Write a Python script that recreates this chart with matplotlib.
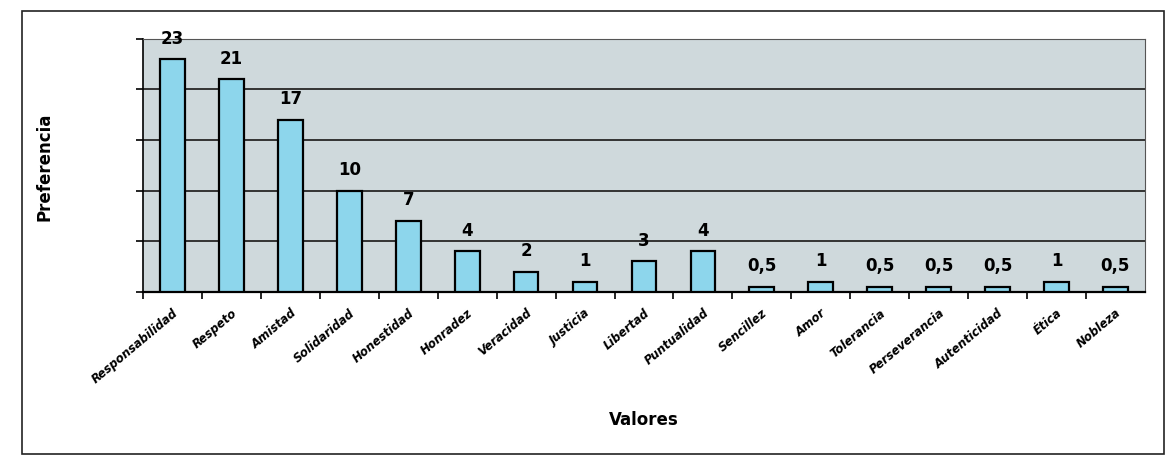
import numpy as np
import matplotlib.pyplot as plt
from matplotlib.patches import Rectangle

valores = ['Responsabilidad', 'Respeto', 'Amistad', 'Solidaridad', 'Honestidad',
           'Honradez', 'Veracidad', 'Justicia', 'Libertad', 'Puntualidad',
           'Sencillez', 'Amor', 'Tolerancia', 'Perseverancia', 'Autenticidad',
           'Ética', 'Nobleza']
preferencia = [23, 21, 17, 10, 7, 4, 2, 1, 3, 4, 0.5, 1, 0.5, 0.5, 0.5, 1, 0.5]
etiquetas = ['23', '21', '17', '10', '7', '4', '2', '1', '3', '4',
             '0,5', '1', '0,5', '0,5', '0,5', '1', '0,5']

fig = plt.figure(figsize=(11.73, 4.64), dpi=100)
fig.patches.append(Rectangle((0.019, 0.02), 0.973, 0.955, transform=fig.transFigure,
                             fill=False, edgecolor='#222222', linewidth=1.2))

ax = fig.add_axes([0.122, 0.369, 0.854, 0.545])
ax.set_facecolor('#cfd9dc')
x = np.arange(len(valores))
bars = ax.bar(x, preferencia, width=0.42, color='#8dd6ec', edgecolor='black',
              linewidth=1.6, zorder=3)
for b, t in zip(bars, etiquetas):
    ax.annotate(t, (b.get_x() + b.get_width() / 2, b.get_height()),
                xytext=(0, 9), textcoords='offset points', ha='center',
                va='bottom', fontsize=12, fontweight='bold')

ax.set_ylim(0, 25)
ax.set_xlim(-0.5, len(valores) - 0.5)
ax.set_yticks([0, 5, 10, 15, 20, 25])
ax.set_yticklabels([])
ax.yaxis.grid(True, color='#333333', linewidth=1.4, zorder=1)
ax.set_axisbelow(True)
ax.tick_params(axis='y', length=5, width=1.2, direction='out')

ax.set_xticks(x - 0.5, minor=True)
ax.set_xticks(x)
ax.set_xticklabels(valores, rotation=40, ha='right', rotation_mode='anchor',
                   fontsize=8.5, fontweight='bold', fontstyle='italic')
ax.tick_params(axis='x', which='major', length=0, pad=10)
ax.tick_params(axis='x', which='minor', length=5, width=1.2)

for s in ['top', 'right']:
    ax.spines[s].set_color('#555555')
ax.spines['left'].set_linewidth(1.2)
ax.spines['bottom'].set_linewidth(1.6)

ax.set_ylabel('Preferencia', fontsize=12, fontweight='bold', labelpad=56)
ax.set_xlabel('Valores', fontsize=12, fontweight='bold', labelpad=18)

fig.savefig('out.png', dpi=100)
